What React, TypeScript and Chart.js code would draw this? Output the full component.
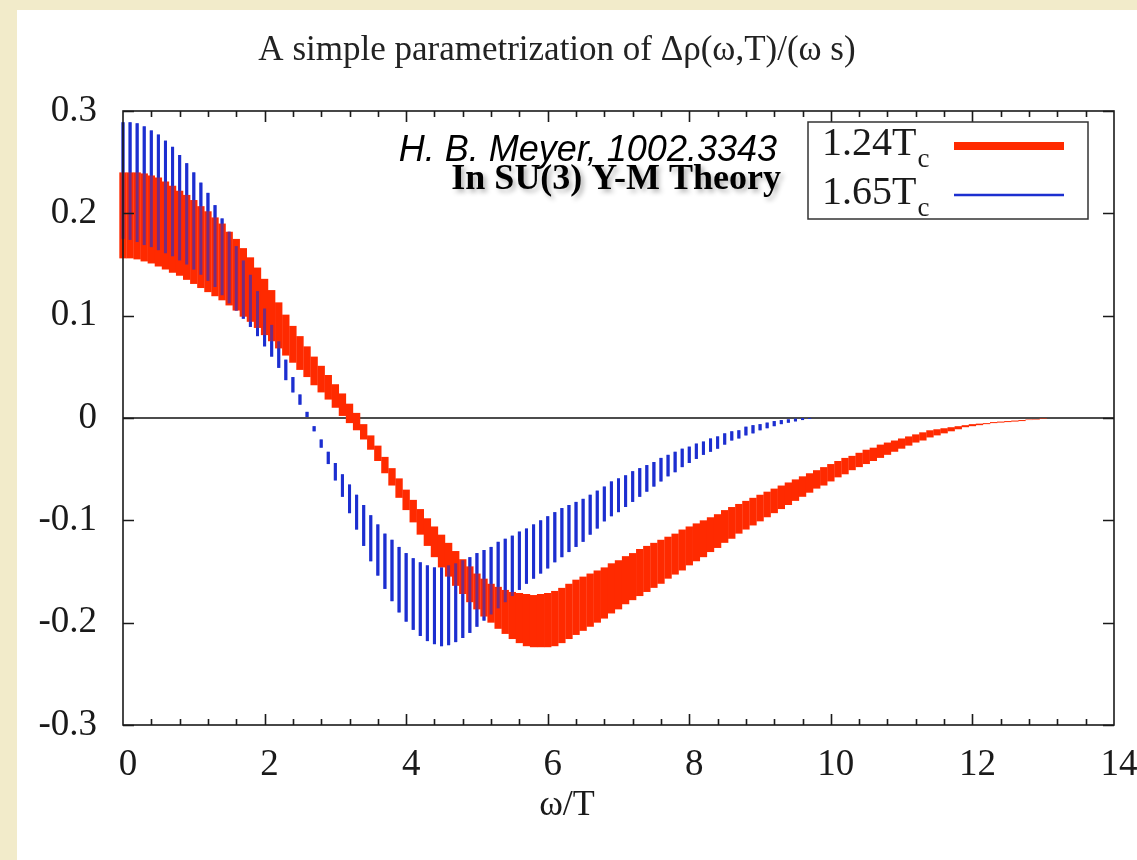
import { useEffect, useRef } from "react";
import { Chart, registerables } from "chart.js";

Chart.register(...registerables);

// Sampling step of omega/T for both error bands
const OMEGA_STEP = 0.1;

// 1.24 Tc band, upper and lower edges (x = 0.0 ... 13.0)
const RED_HIGH = [
  0.240, 0.240, 0.240, 0.239, 0.237, 0.235, 0.231, 0.227, 0.222, 0.218,
  0.213, 0.207, 0.202, 0.196, 0.190, 0.182, 0.175, 0.166, 0.157, 0.147,
  0.136, 0.125, 0.113, 0.101, 0.090, 0.080, 0.070, 0.060, 0.051, 0.042,
  0.033, 0.024, 0.014, 0.005, -0.006, -0.017, -0.027, -0.038, -0.049, -0.059,
  -0.070, -0.080, -0.089, -0.098, -0.106, -0.114, -0.122, -0.130, -0.138, -0.145,
  -0.152, -0.157, -0.162, -0.165, -0.168, -0.170, -0.171, -0.172, -0.173, -0.172,
  -0.171, -0.169, -0.166, -0.162, -0.158, -0.155, -0.152, -0.149, -0.146, -0.142,
  -0.139, -0.135, -0.132, -0.128, -0.125, -0.122, -0.119, -0.116, -0.113, -0.109,
  -0.106, -0.103, -0.100, -0.097, -0.094, -0.090, -0.087, -0.084, -0.081, -0.078,
  -0.075, -0.072, -0.069, -0.066, -0.063, -0.060, -0.057, -0.054, -0.051, -0.048,
  -0.045, -0.042, -0.039, -0.037, -0.034, -0.031, -0.029, -0.026, -0.024, -0.022,
  -0.020, -0.018, -0.016, -0.014, -0.012, -0.011, -0.010, -0.009, -0.008, -0.007,
  -0.006, -0.0055, -0.005, -0.004, -0.0035, -0.003, -0.0025, -0.002, -0.0015, -0.001,
  -0.0005,
];
const RED_LOW = [
  0.156, 0.156, 0.155, 0.153, 0.151, 0.148, 0.145, 0.142, 0.139, 0.135,
  0.131, 0.127, 0.123, 0.119, 0.115, 0.110, 0.105, 0.099, 0.094, 0.088,
  0.081, 0.075, 0.068, 0.061, 0.054, 0.047, 0.040, 0.032, 0.025, 0.018,
  0.010, 0.002, -0.005, -0.012, -0.021, -0.031, -0.042, -0.054, -0.066, -0.078,
  -0.090, -0.102, -0.114, -0.125, -0.136, -0.146, -0.155, -0.164, -0.172, -0.180,
  -0.187, -0.194, -0.200, -0.206, -0.211, -0.216, -0.220, -0.223, -0.224, -0.224,
  -0.224, -0.223, -0.220, -0.216, -0.212, -0.208, -0.204, -0.200, -0.196, -0.191,
  -0.187, -0.182, -0.178, -0.174, -0.170, -0.166, -0.162, -0.157, -0.153, -0.149,
  -0.144, -0.140, -0.136, -0.131, -0.127, -0.122, -0.118, -0.113, -0.109, -0.105,
  -0.101, -0.097, -0.093, -0.089, -0.085, -0.081, -0.077, -0.073, -0.069, -0.066,
  -0.062, -0.058, -0.055, -0.051, -0.048, -0.045, -0.042, -0.039, -0.036, -0.033,
  -0.030, -0.027, -0.024, -0.022, -0.019, -0.017, -0.015, -0.013, -0.011, -0.009,
  -0.008, -0.007, -0.006, -0.005, -0.0045, -0.004, -0.0035, -0.003, -0.002, -0.0015,
  -0.001,
];

// 1.65 Tc band, upper and lower edges (x = 0.0 ... 9.7)
const BLUE_HIGH = [
  0.289, 0.289, 0.288, 0.285, 0.281, 0.277, 0.271, 0.265, 0.257, 0.249,
  0.240, 0.230, 0.220, 0.208, 0.195, 0.182, 0.168, 0.154, 0.140, 0.124,
  0.107, 0.091, 0.075, 0.057, 0.040, 0.023, 0.006, -0.008, -0.021, -0.033,
  -0.044, -0.055, -0.065, -0.075, -0.085, -0.095, -0.104, -0.113, -0.119, -0.126,
  -0.132, -0.137, -0.141, -0.144, -0.146, -0.146, -0.144, -0.142, -0.139, -0.136,
  -0.132, -0.129, -0.126, -0.121, -0.118, -0.115, -0.111, -0.108, -0.104, -0.100,
  -0.096, -0.092, -0.088, -0.085, -0.082, -0.079, -0.075, -0.071, -0.067, -0.062,
  -0.059, -0.056, -0.052, -0.049, -0.046, -0.043, -0.039, -0.036, -0.033, -0.030,
  -0.028, -0.025, -0.023, -0.020, -0.018, -0.015, -0.013, -0.012, -0.0085, -0.007,
  -0.006, -0.0045, -0.003, -0.002, -0.0013, -0.0007, -0.0002, 0.0,
];
const BLUE_LOW = [
  0.175, 0.174, 0.172, 0.169, 0.167, 0.164, 0.161, 0.158, 0.154, 0.150,
  0.145, 0.140, 0.134, 0.128, 0.120, 0.112, 0.105, 0.097, 0.089, 0.080,
  0.070, 0.060, 0.049, 0.037, 0.025, 0.013, 0.001, -0.013, -0.029, -0.045,
  -0.061, -0.077, -0.093, -0.109, -0.125, -0.140, -0.154, -0.167, -0.179, -0.190,
  -0.199, -0.207, -0.213, -0.218, -0.221, -0.223, -0.222, -0.219, -0.215, -0.210,
  -0.204, -0.198, -0.192, -0.186, -0.180, -0.174, -0.168, -0.162, -0.157, -0.152,
  -0.147, -0.141, -0.136, -0.131, -0.126, -0.121, -0.114, -0.108, -0.101, -0.096,
  -0.092, -0.087, -0.082, -0.077, -0.072, -0.067, -0.062, -0.057, -0.053, -0.048,
  -0.044, -0.040, -0.036, -0.033, -0.030, -0.026, -0.022, -0.020, -0.017, -0.015,
  -0.012, -0.010, -0.008, -0.006, -0.0046, -0.0033, -0.002, -0.001,
];

const SERIES_LABELS = ["1.24T", "1.65T"];
const SUBSCRIPT = "c";
const TITLE = "A simple parametrization of \u0394\u03c1(\u03c9,T)/(\u03c9 s)";
const X_TITLE = "\u03c9/T";
const NOTE_AUTHOR = "H. B. Meyer, 1002.3343";
const NOTE_THEORY = "In SU(3) Y-M Theory";

const X_MIN = 0;
const X_MAX = 14;
const X_STEP = 2;
const X_MINOR_STEP = 0.4;
const Y_MIN = -0.3;
const Y_MAX = 0.3;
const Y_STEP = 0.1;

const RED = "#ff2a00";
const BLUE = "#1c2fd0";
const BLUE_OVER = "rgba(28,47,208,0.6)";
const INK = "#1a1a1a";
const BEIGE = "#f2ebca";
const SERIF = '"Liberation Serif", "Times New Roman", serif';
const SANS = '"Liberation Sans", Arial, sans-serif';

const band = (hi: number[], lo: number[]) =>
  hi.map((h, i) => ({ x: Number((i * OMEGA_STEP).toFixed(1)), y: [lo[i], h] }));

const gnuplotFrame = {
  id: "gnuplotFrame",
  beforeDatasetsDraw(chart: any) {
    const { ctx, chartArea: a, scales } = chart;
    const y0 = scales.y.getPixelForValue(0);
    ctx.save();
    ctx.strokeStyle = "#111";
    ctx.lineWidth = 1.5;
    ctx.beginPath();
    ctx.moveTo(a.left, y0);
    ctx.lineTo(a.right, y0);
    ctx.stroke();
    ctx.restore();
  },
  afterDatasetsDraw(chart: any) {
    const { ctx, chartArea: a, scales } = chart;
    const { x, y } = scales;
    ctx.save();
    ctx.strokeStyle = "#1a1a1a";
    ctx.lineWidth = 1.6;
    ctx.strokeRect(a.left, a.top, a.right - a.left, a.bottom - a.top);
    ctx.beginPath();
    const nMinor = Math.round((X_MAX - X_MIN) / X_MINOR_STEP);
    for (let k = 1; k < nMinor; k++) {
      const v = X_MIN + k * X_MINOR_STEP;
      const major = Math.abs(v / X_STEP - Math.round(v / X_STEP)) < 1e-6;
      const len = major ? 11 : 6;
      const px = Math.round(x.getPixelForValue(v)) + 0.5;
      ctx.moveTo(px, a.bottom);
      ctx.lineTo(px, a.bottom - len);
      ctx.moveTo(px, a.top);
      ctx.lineTo(px, a.top + len);
    }
    y.ticks.forEach((t: any) => {
      const py = Math.round(y.getPixelForValue(t.value)) + 0.5;
      ctx.moveTo(a.left, py);
      ctx.lineTo(a.left + 11, py);
      ctx.moveTo(a.right, py);
      ctx.lineTo(a.right - 11, py);
    });
    ctx.stroke();
    ctx.restore();
  },
  afterDraw(chart: any) {
    const { ctx, data } = chart;
    ctx.save();

    // x-axis title
    ctx.fillStyle = INK;
    ctx.font = `36px ${SERIF}`;
    ctx.textAlign = "center";
    ctx.textBaseline = "middle";
    ctx.fillText(X_TITLE, 567, 806);

    // author note
    ctx.textAlign = "right";
    ctx.textBaseline = "alphabetic";
    ctx.font = `italic 36px ${SANS}`;
    ctx.fillStyle = "#000";
    ctx.fillText(NOTE_AUTHOR, 777, 161);
    ctx.save();
    ctx.shadowColor = "rgba(0,0,0,0.3)";
    ctx.shadowBlur = 5;
    ctx.shadowOffsetX = 3;
    ctx.shadowOffsetY = 3;
    ctx.font = `bold 36px ${SERIF}`;
    ctx.fillText(NOTE_THEORY, 781, 189);
    ctx.restore();

    // key box
    ctx.strokeStyle = "#333";
    ctx.lineWidth = 1.5;
    ctx.strokeRect(808, 122, 280, 97);
    const rows = [
      { label: SERIES_LABELS[0], color: data.datasets[1].backgroundColor, width: 8, base: 155, lineY: 146 },
      { label: SERIES_LABELS[1], color: data.datasets[2].backgroundColor, width: 2.5, base: 204, lineY: 195 },
    ];
    rows.forEach((r) => {
      ctx.textAlign = "left";
      ctx.fillStyle = INK;
      ctx.font = `40px ${SERIF}`;
      ctx.fillText(r.label, 822, r.base);
      const w = ctx.measureText(r.label).width;
      ctx.font = `27px ${SERIF}`;
      ctx.fillText(SUBSCRIPT, 822 + w + 1, r.base + 12);
      ctx.strokeStyle = r.color;
      ctx.lineWidth = r.width;
      ctx.beginPath();
      ctx.moveTo(954, r.lineY);
      ctx.lineTo(1064, r.lineY);
      ctx.stroke();
    });
    ctx.restore();
  },
};

export default function App() {
  const ref = useRef<HTMLCanvasElement>(null);

  useEffect(() => {
    const canvas = ref.current;
    if (!canvas) return;
    const red = band(RED_HIGH, RED_LOW);
    const blue = band(BLUE_HIGH, BLUE_LOW);
    const common = {
      grouped: false,
      categoryPercentage: 1,
      borderWidth: 0,
      borderSkipped: false,
      clip: false as const,
    };
    const chart = new Chart(canvas, {
      type: "bar",
      data: {
        datasets: [
          { ...common, label: SERIES_LABELS[1], data: blue as any, backgroundColor: BLUE_OVER, barPercentage: 0.43 },
          { ...common, label: SERIES_LABELS[0], data: red as any, backgroundColor: RED, barPercentage: 1.04 },
          { ...common, label: SERIES_LABELS[1], data: blue as any, backgroundColor: BLUE, barPercentage: 0.43 },
        ],
      },
      options: {
        animation: false,
        responsive: false,
        devicePixelRatio: 1,
        events: [],
        layout: { padding: { left: 0, right: 23, top: 0, bottom: 0 } },
        plugins: {
          legend: { display: false },
          tooltip: { enabled: false },
          title: {
            display: true,
            text: TITLE,
            color: "#222",
            font: { family: SERIF, size: 35, weight: "normal", lineHeight: 1.2 },
            padding: { top: 30, bottom: 39 },
          },
        },
        scales: {
          x: {
            type: "linear",
            min: X_MIN,
            max: X_MAX,
            offset: false,
            grid: { display: false, drawTicks: false, offset: false },
            border: { display: false },
            ticks: {
              stepSize: X_STEP,
              color: INK,
              font: { family: SERIF, size: 37 },
              padding: 18,
              labelOffset: 5,
              maxRotation: 0,
            },
            afterFit: (s: any) => {
              s.height = 135;
              s.paddingLeft = 0;
              s.paddingRight = 0;
            },
          },
          y: {
            min: Y_MIN,
            max: Y_MAX,
            grid: { display: false, drawTicks: false },
            border: { display: false },
            ticks: {
              stepSize: Y_STEP,
              color: INK,
              font: { family: SERIF, size: 37 },
              padding: 26,
              callback: (v: any) => (Math.abs(v) < 1e-9 ? "0" : Number(v).toFixed(1)),
            },
            afterFit: (s: any) => {
              s.width = 123;
              s.paddingTop = 0;
              s.paddingBottom = 0;
            },
          },
        },
      },
      plugins: [gnuplotFrame],
    });
    return () => chart.destroy();
  }, []);

  return (
    <div
      style={{
        position: "fixed",
        left: 0,
        top: 0,
        width: 1137,
        height: 860,
        background: BEIGE,
        overflow: "hidden",
      }}
    >
      <div style={{ position: "absolute", left: 17, top: 10, right: 0, bottom: 0, background: "#fff" }} />
      <canvas
        ref={ref}
        width={1137}
        height={860}
        style={{ position: "absolute", left: 0, top: 0, width: 1137, height: 860 }}
      />
    </div>
  );
}
